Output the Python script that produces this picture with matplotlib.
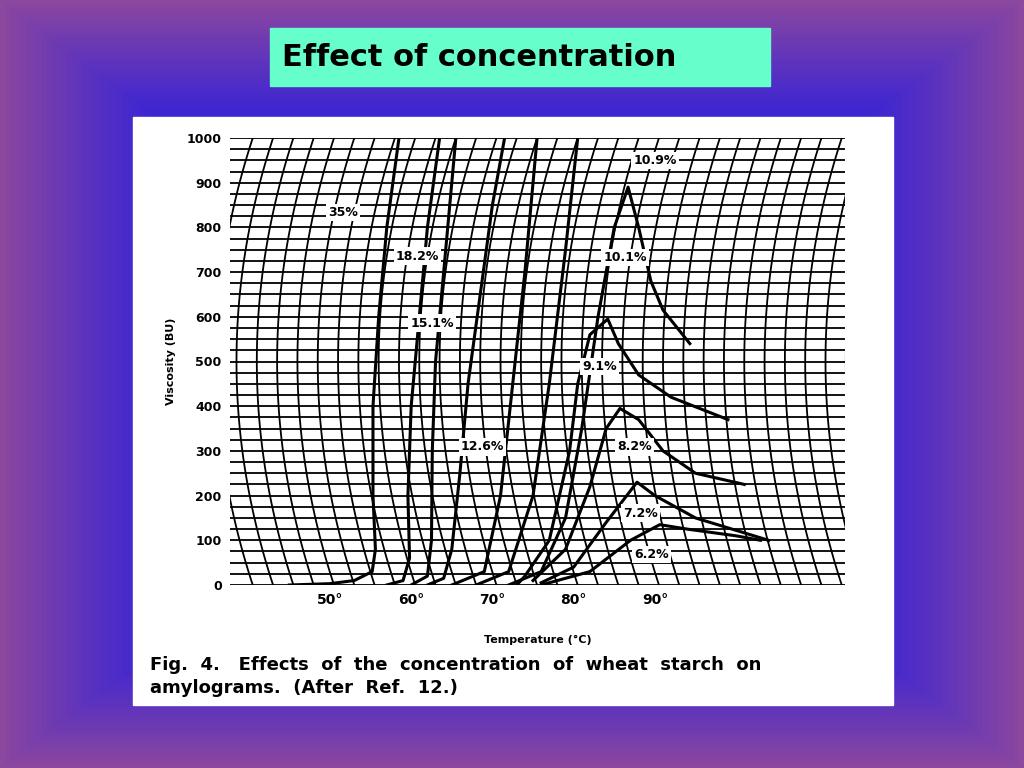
import matplotlib.pyplot as plt
import numpy as np

plt.rcParams["font.family"] = "DejaVu Sans"

# amylogram curves: (temperature degC, viscosity BU)
c35_t = [45, 50, 53, 55.2, 55.6, 55.3, 55.3, 56, 57, 58.5]
c35_v = [0, 3, 10, 30, 80, 200, 400, 600, 800, 1000]
c182_t = [57, 59, 59.8, 59.6, 60, 61, 62, 63.5]
c182_v = [0, 10, 60, 200, 400, 600, 800, 1000]
c151_t = [60, 62, 62.5, 62.6, 63, 64, 65.5]
c151_v = [0, 20, 100, 300, 500, 700, 1000]
c126_t = [62, 64, 65, 66, 67, 68.5, 70, 71.5]
c126_v = [0, 15, 80, 250, 450, 650, 850, 1000]
cx_t = [65, 69, 71, 72.5, 74, 75.5]
cx_v = [0, 30, 200, 450, 700, 1000]
c101_t = [68, 72, 75, 77, 79, 80.5]
c101_v = [0, 30, 200, 450, 750, 1000]
c109_t = [72, 76, 79, 81, 83, 85, 86.7, 88, 89.5, 91, 94.3]
c109_v = [0, 30, 150, 350, 600, 800, 890, 800, 680, 615, 540]
c91_t = [73, 74, 77, 79.5, 80.5, 82, 84.2, 85.5, 88, 92, 99]
c91_v = [0, 20, 100, 300, 450, 560, 595, 540, 470, 420, 370]
c82_t = [75, 79, 82, 84, 85.7, 88, 91, 95, 101]
c82_v = [10, 80, 220, 350, 395, 370, 300, 250, 225]
c72_t = [76, 80, 84, 87.8, 90, 95, 104]
c72_v = [5, 40, 140, 230, 200, 150, 100]
c62_t = [76, 82, 87, 90.6, 94, 100, 103]
c62_v = [0, 30, 100, 135, 125, 110, 100]

curves = [(c35_t, c35_v), (c182_t, c182_v), (c151_t, c151_v), (c126_t, c126_v),
          (cx_t, cx_v), (c101_t, c101_v), (c109_t, c109_v), (c91_t, c91_v),
          (c82_t, c82_v), (c72_t, c72_v), (c62_t, c62_v)]

labels = ["35%", "18.2%", "15.1%", "12.6%", "10.9%", "10.1%", "9.1%", "8.2%", "7.2%", "6.2%"]
label_t = [51.6, 60.8, 62.6, 68.8, 90.0, 86.3, 83.2, 87.5, 88.2, 89.6]
label_v = [834, 736, 586, 309, 949, 732, 488, 309, 161, 69]

y_ticks = list(range(0, 1001, 100))
x_ticks = [50, 60, 70, 80, 90]

W, H = 1024, 768
fig = plt.figure(figsize=(W / 100, H / 100), dpi=100)

# gradient background
bg = fig.add_axes([0, 0, 1, 1])
yy, xx = np.mgrid[0:1:200j, 0:1:200j]
d = np.maximum(np.abs(xx - 0.5), np.abs(yy - 0.5)) * 2
d = np.clip((d - 0.55) / 0.45, 0, 1) ** 1.3
c_in = np.array([0.13, 0.10, 0.90])
c_out = np.array([0.55, 0.28, 0.62])
img = c_in[None, None, :] * (1 - d[..., None]) + c_out[None, None, :] * d[..., None]
bg.imshow(img, extent=[0, 1, 0, 1], aspect="auto")
bg.set_xlim(0, 1)
bg.set_ylim(0, 1)
bg.axis("off")

# title box
bg.add_patch(plt.Rectangle((270 / W, 1 - 86 / H), 500 / W, 58 / H, color="#66ffcc"))
bg.text(282 / W, 1 - 57 / H, "Effect of concentration", fontsize=22, fontweight="bold",
        va="center", color="black")

# white panel
bg.add_patch(plt.Rectangle((133 / W, 1 - 705 / H), 760 / W, 588 / H, color="white"))

ax = fig.add_axes([230 / W, 1 - 585 / H, 615 / W, 447 / H])
ax.set_xlim(37.7, 113.4)
ax.set_ylim(0, 1000)

# chart paper grid
for v in np.arange(0, 1001, 25):
    ax.plot([37.7, 113.4], [v, v], color="black", lw=1.3, zorder=1)
vv = np.linspace(0, 1000, 100)
for t0 in np.arange(36, 116, 2.5):
    ax.plot(t0 + 4.5 * ((vv - 500) / 500) ** 2, vv, color="black", lw=1.3, zorder=1)

for t, v in curves:
    ax.plot(t, v, color="black", lw=2.2, zorder=3)

for lab, t, v in zip(labels, label_t, label_v):
    ax.text(t, v, lab, fontsize=9, fontweight="bold", ha="center", va="center", zorder=4,
            bbox=dict(facecolor="white", edgecolor="none", pad=1.5))

ax.set_yticks(y_ticks)
ax.set_yticklabels([str(v) for v in y_ticks], fontsize=9, fontweight="bold")
ax.set_xticks(x_ticks)
ax.set_xticklabels([f"{t}°" for t in x_ticks], fontsize=10, fontweight="bold")
ax.tick_params(length=0, pad=6)
for s in ax.spines.values():
    s.set_visible(False)
ax.set_ylabel("Viscosity (BU)", fontsize=8, fontweight="bold", labelpad=8)
ax.set_xlabel("Temperature (°C)", fontsize=8, fontweight="bold", labelpad=20)

bg.text(150 / W, 1 - 665 / H, "Fig.  4.   Effects  of  the  concentration  of  wheat  starch  on",
        fontsize=13, fontweight="bold", va="center")
bg.text(150 / W, 1 - 688 / H, "amylograms.  (After  Ref.  12.)",
        fontsize=13, fontweight="bold", va="center")

fig.savefig("out.png", dpi=100)
